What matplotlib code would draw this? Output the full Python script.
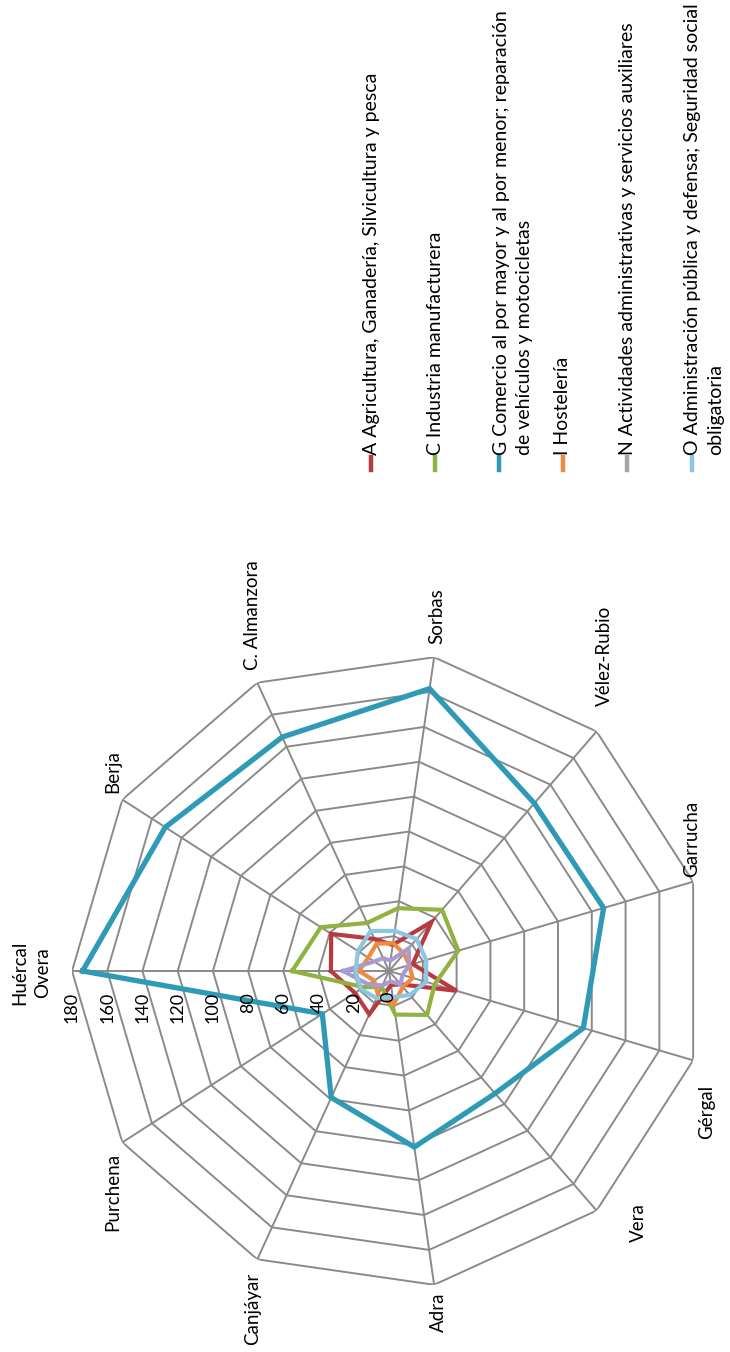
import numpy as np
import matplotlib
matplotlib.use("Agg")
import matplotlib.pyplot as plt
from matplotlib.lines import Line2D

# ---------------- data ----------------
categories = ["Huércal\nOvera", "Berja", "C. Almanzora", "Sorbas", "Vélez-Rubio",
              "Garrucha", "Gérgal", "Vera", "Adra", "Canjáyar", "Purchena"]
tick_values = [0, 20, 40, 60, 80, 100, 120, 140, 160, 180]

series_names = [
    "A Agricultura, Ganadería, Silvicultura y pesca",
    "C Industria manufacturera",
    "G Comercio al por mayor y al por menor; reparación\nde vehículos y motocicletas",
    "I Hostelería",
    "N Actividades administrativas y servicios auxiliares",
    "O Administración pública y defensa; Seguridad social\nobligatoria",
]
A_vals = [33, 39, 20, 15, 37, 14, 40, 10, 8, 27, 23]
C_vals = [55, 46, 30, 36, 46, 41, 27, 33, 25, 10, 17]
G_vals = [174, 151, 146, 162, 126, 127, 115, 92, 101, 79, 45]
I_vals = [17, 14, 17, 16, 13, 12, 14, 12, 19, 15, 10]
N_vals = [26, 10, 8, 6, 17, 12, 8, 10, 6, 9, 14]
O_vals = [19, 21, 25, 23, 24, 22, 22, 18, 15, 17, 19]

series_values = [A_vals, C_vals, G_vals, I_vals, N_vals, O_vals]
series_colors = ["#b8393f", "#8fb33e", "#2f9ab6", "#f08a3c", "#a99bd0", "#8dc6e2"]
legend_colors = ["#b8393f", "#8fb33e", "#2f9ab6", "#f08a3c", "#a3a3ab", "#8dc6e2"]
series_lw = [3.0, 3.0, 3.8, 3.0, 3.0, 3.0]

# ---------------- figure ----------------
W, H = 730, 1352
fig = plt.figure(figsize=(W / 100, H / 100), dpi=100)
fig.patch.set_facecolor("white")

cx, cy, R = 389, 971, 317   # pixel centre / radius (from top-left)
ax = fig.add_axes([(cx - R) / W, (H - cy - R) / H, 2 * R / W, 2 * R / H],
                  projection="polar")
ax.set_theta_zero_location("W")
ax.set_theta_direction(-1)
ax.set_ylim(0, 180)
ax.axis("off")

n = len(categories)
theta = np.arange(n) * 2 * np.pi / n
theta_c = np.append(theta, theta[0])

grid_col = "#8a8a8a"
for tv in tick_values[1:]:
    ax.plot(theta_c, [tv] * (n + 1), color=grid_col, lw=1.4, zorder=1)
for t in theta:
    ax.plot([t, t], [0, tick_values[-1]], color=grid_col, lw=1.4, zorder=1)

for vals, col, lw in zip(series_values, series_colors, series_lw):
    v = np.append(vals, vals[0])
    ax.plot(theta_c, v, color=col, lw=lw, zorder=3, solid_joinstyle="miter")

fontfam = ["Lato", "DejaVu Sans"]
# tick labels (below first spoke, rotated)
for tv in tick_values:
    ax.annotate(str(tv), xy=(0, tv), xytext=(0, -21), textcoords="offset pixels",
                rotation=90, ha="center", va="top", fontsize=13,
                family=fontfam, color="#000000", zorder=5)

# category labels
label_offsets = [(-41, -2), (-10, 28), (-5, 68), (3, 41), (8, 76), (-2, 43),
                 (13, -52), (42, -12), (4, -27), (-5, -50), (-10, -50)]
for t, lab, off in zip(theta, categories, label_offsets):
    ax.annotate(lab, xy=(t, 180), xytext=off, textcoords="offset pixels",
                rotation=90, ha="center", va="center", fontsize=13.5,
                family=fontfam, multialignment="center", linespacing=1.4,
                zorder=5)

# legend (rotated, built manually)
leg_x = [371, 435, 513, 563, 627, 704]
mark_x = [371, 435, 499, 563, 627, 692]
for name, col, lx, mx in zip(series_names, legend_colors, leg_x, mark_x):
    fig.add_artist(Line2D([mx / W, mx / W], [1 - 470 / H, 1 - 457 / H],
                          color=col, lw=3.2, transform=fig.transFigure))
    fig.text(lx / W, 1 - 455 / H, name, rotation=90, ha="center", va="bottom",
             multialignment="left", fontsize=14, family=fontfam,
             linespacing=1.42)

fig.savefig("out.png", dpi=100, facecolor="white")
